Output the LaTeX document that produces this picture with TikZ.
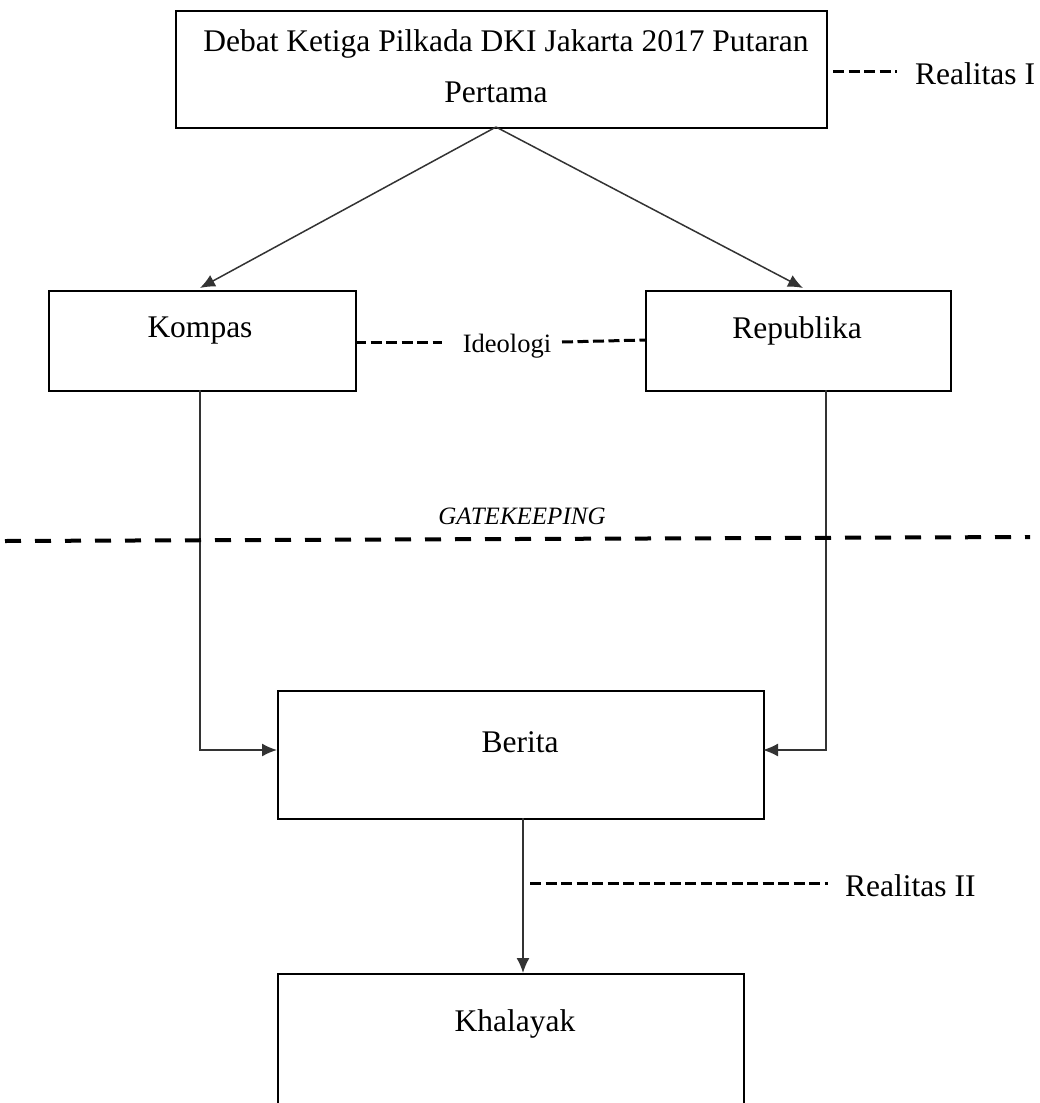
\documentclass[tikz,border=0pt]{standalone}
\usepackage{fontspec}
\setmainfont{Liberation Serif}
\usetikzlibrary{arrows.meta}
\begin{document}
\begin{tikzpicture}[x=1pt,y=-1pt,
  box/.style={draw=black,line width=2pt,inner sep=0pt,anchor=north west},
  lbl/.style={font=\fontsize{31.5}{38}\selectfont,inner sep=0pt},
  conn/.style={line width=1.5pt,draw=black!80},
  arr/.style={conn,-{Latex[length=15pt,width=13pt]}},
  dsh/.style={line width=3pt,dash pattern=on 11pt off 4.5pt},
  gdsh/.style={line width=4pt,dash pattern=on 16pt off 14pt}]
\useasboundingbox[fill=white] (0,0) rectangle (1040,1103);
% boxes
\node[box,minimum width=651pt,minimum height=117pt] (top) at (175,10) {};
\node[box,minimum width=307pt,minimum height=100pt] (kom) at (48,290) {};
\node[box,minimum width=305pt,minimum height=100pt] (rep) at (645,290) {};
\node[box,minimum width=486pt,minimum height=128pt] (ber) at (277,690) {};
\node[box,minimum width=466pt,minimum height=130pt] (kha) at (277,973) {};
% texts
\node[lbl] (t1) at (506,44) {Debat Ketiga Pilkada DKI Jakarta 2017 Putaran};
\node[lbl] (t2) at (496,92) {Pertama};
\node[lbl] (tkom) at (200,331) {Kompas};
\node[lbl] (trep) at (797,331) {Republika};
\node[lbl] (tber) at (520,742) {Berita};
\node[lbl] (tkha) at (515,1024) {Khalayak};
\node[lbl,anchor=west] (r1) at (915,74) {Realitas I};
\node[lbl,anchor=west] (r2) at (845,886) {Realitas II};
\node[lbl,font=\fontsize{26.5}{32}\selectfont] (ideo) at (507,346) {Ideologi};
\node[lbl,font=\itshape\fontsize{25}{30}\selectfont] (gate) at (522,516) {GATEKEEPING};
% coordinates
\coordinate (topb) at (496,127);
\coordinate (komt) at (200,288);
\coordinate (rept) at (803,288);
\coordinate (komb) at (200,390);
\coordinate (repb) at (826,390);
\coordinate (berl) at (277,750);
\coordinate (berr) at (763,750);
\coordinate (berb) at (523,818);
\coordinate (khat) at (523,973);
\coordinate (r1a) at (833,71);
\coordinate (r1b) at (897,71);
\coordinate (r2a) at (530,883);
\coordinate (r2b) at (828,883);
\coordinate (ia) at (355,342);
\coordinate (ib) at (442,342);
\coordinate (ic) at (562,342);
\coordinate (id) at (645,340);
\coordinate (ga) at (5,541);
\coordinate (gb) at (1030,537);
% connectors
\draw[arr] (topb) -- (komt);
\draw[arr] (topb) -- (rept);
\draw[arr] (komb) |- (berl);
\draw[arr] (repb) |- (berr);
\draw[arr] (berb) -- (khat);
% dashed
\draw[dsh] (r1a) -- (r1b);
\draw[dsh] (r2a) -- (r2b);
\draw[dsh] (ia) -- (ib);
\draw[dsh] (ic) -- (id);
\draw[gdsh] (ga) -- (gb);
\end{tikzpicture}
\end{document}
